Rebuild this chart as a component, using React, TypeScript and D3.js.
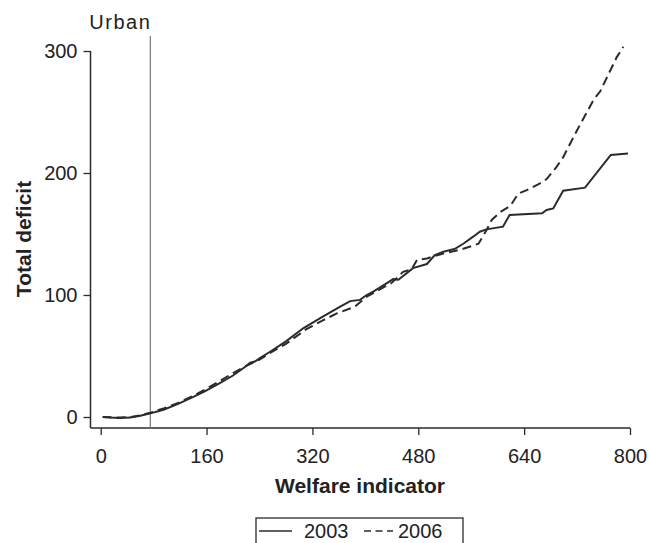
import React, { useRef, useEffect } from 'react';
import * as d3 from 'd3';

// welfare indicator (x) and total deficit (y)
const x2003 = [3, 15, 27, 45, 60, 75, 95, 117, 140, 158, 180, 200, 218, 226, 233, 240, 256, 280, 306, 335, 362, 377, 392, 402, 412, 432, 442, 450, 472, 493, 505, 518, 536, 548, 563, 573, 583, 608, 618, 667, 674, 684, 699, 732, 771, 797];
const y2003 = [0, -0.5, -0.8, -0.5, 1, 3, 6, 10.7, 16.5, 21.3, 27.8, 34, 41, 44.5, 45.5, 48, 53.5, 62, 72.7, 82, 90.4, 95, 96, 100, 102.7, 109.6, 113, 112.5, 122, 125.4, 132.8, 135.5, 138, 142, 147.8, 151.9, 153.8, 156, 165.6, 167, 169.7, 171, 185.5, 188, 214.8, 216];

const x2006 = [3, 15, 30, 45, 60, 75, 95, 117, 140, 158, 180, 200, 218, 240, 256, 280, 311, 335, 357, 384, 402, 420, 440, 457, 470, 478, 493, 518, 543, 571, 583, 591, 604, 619, 631, 644, 664, 674, 689, 699, 720, 745, 755, 780, 790];
const y2006 = [0, -0.3, -0.5, 0, 1.3, 3.5, 7, 11.5, 17.5, 22.5, 29.5, 36, 41.5, 47, 52.5, 60, 72, 79, 85, 90.4, 98.6, 104, 110, 119, 121, 128.7, 130, 134, 137, 142, 153, 161.5, 168, 173, 183, 186, 191.5, 195, 205, 213, 235, 260, 267, 295, 303.5];

const xTicks = [0, 160, 320, 480, 640, 800];
const yTicks = [0, 100, 200, 300];
const urbanLine = 75;

const App = () => {
  const ref = useRef<SVGSVGElement>(null);

  useEffect(() => {
    const svg = d3.select(ref.current);
    svg.selectAll('*').remove();

    const width = 649;
    const height = 543;
    const font = '"Liberation Sans", Arial, Helvetica, sans-serif';
    const ink = '#2b2b2b';

    const x = d3.scaleLinear().domain([0, 800]).range([100.7, 630]);
    const y = d3.scaleLinear().domain([0, 300]).range([417, 51]);
    const axisY = 428;
    const axisX = 90.5;

    svg.attr('width', width).attr('height', height);
    svg.append('rect').attr('width', width).attr('height', height).attr('fill', 'white');

    // y axis
    const gy = svg.append('g')
      .attr('transform', `translate(${axisX},0)`)
      .call(d3.axisLeft(y).tickValues(yTicks).tickSize(7).tickPadding(6).tickFormat(d3.format('d')));
    gy.select('.domain').remove();
    gy.append('line')
      .attr('y1', y(300)).attr('y2', axisY)
      .attr('stroke', ink).attr('stroke-width', 1.5);

    // x axis
    const gx = svg.append('g')
      .attr('transform', `translate(0,${axisY})`)
      .call(d3.axisBottom(x).tickValues(xTicks).tickSize(7).tickPadding(14).tickFormat(d3.format('d')));
    gx.select('.domain').remove();
    gx.append('line')
      .attr('x1', axisX).attr('x2', x(800))
      .attr('stroke', ink).attr('stroke-width', 1.5);

    svg.selectAll('.tick line').attr('stroke', ink).attr('stroke-width', 1.3);
    svg.selectAll('.tick text')
      .attr('fill', '#222')
      .style('font-family', font)
      .style('font-size', '20px');

    // urban marker
    svg.append('line')
      .attr('x1', x(urbanLine)).attr('x2', x(urbanLine))
      .attr('y1', 36).attr('y2', axisY)
      .attr('stroke', '#777').attr('stroke-width', 1.2);
    svg.append('text')
      .attr('x', x(urbanLine) + 1).attr('y', 29)
      .attr('text-anchor', 'end')
      .style('font-family', font).style('font-size', '20px').style('letter-spacing', '1.5px')
      .attr('fill', '#222')
      .text('Urban');

    const line = d3.line<number>()
      .x(d => d[0])
      .y(d => d[1]);

    const pts2003 = x2003.map((v, i) => [x(v), y(y2003[i])]);
    const pts2006 = x2006.map((v, i) => [x(v), y(y2006[i])]);

    svg.append('path')
      .attr('d', line(pts2006 as any))
      .attr('fill', 'none')
      .attr('stroke', ink)
      .attr('stroke-width', 2)
      .attr('stroke-dasharray', '9,5');

    svg.append('path')
      .attr('d', line(pts2003 as any))
      .attr('fill', 'none')
      .attr('stroke', ink)
      .attr('stroke-width', 2);

    // axis titles
    svg.append('text')
      .attr('x', 360).attr('y', 493)
      .attr('text-anchor', 'middle')
      .style('font-family', font).style('font-size', '21px').style('font-weight', 'bold')
      .attr('fill', '#222')
      .text('Welfare indicator');

    svg.append('text')
      .attr('transform', 'translate(31,239) rotate(-90)')
      .attr('text-anchor', 'middle')
      .style('font-family', font).style('font-size', '21px').style('font-weight', 'bold')
      .attr('fill', '#222')
      .text('Total deficit');

    // legend
    const lg = svg.append('g');
    lg.append('rect')
      .attr('x', 256).attr('y', 518).attr('width', 207).attr('height', 32)
      .attr('fill', 'none').attr('stroke', ink).attr('stroke-width', 1.3);
    lg.append('line')
      .attr('x1', 259).attr('x2', 292).attr('y1', 531).attr('y2', 531)
      .attr('stroke', ink).attr('stroke-width', 1.6);
    lg.append('text')
      .attr('x', 304).attr('y', 538)
      .style('font-family', font).style('font-size', '20px')
      .attr('fill', '#222')
      .text('2003');
    lg.append('line')
      .attr('x1', 364).attr('x2', 393).attr('y1', 531).attr('y2', 531)
      .attr('stroke', ink).attr('stroke-width', 1.6)
      .attr('stroke-dasharray', '7,4.5');
    lg.append('text')
      .attr('x', 398).attr('y', 538)
      .style('font-family', font).style('font-size', '20px')
      .attr('fill', '#222')
      .text('2006');
  }, []);

  return (
    <svg ref={ref} style={{ position: 'absolute', left: 0, top: 0, display: 'block' }}></svg>
  );
};

export default App;
